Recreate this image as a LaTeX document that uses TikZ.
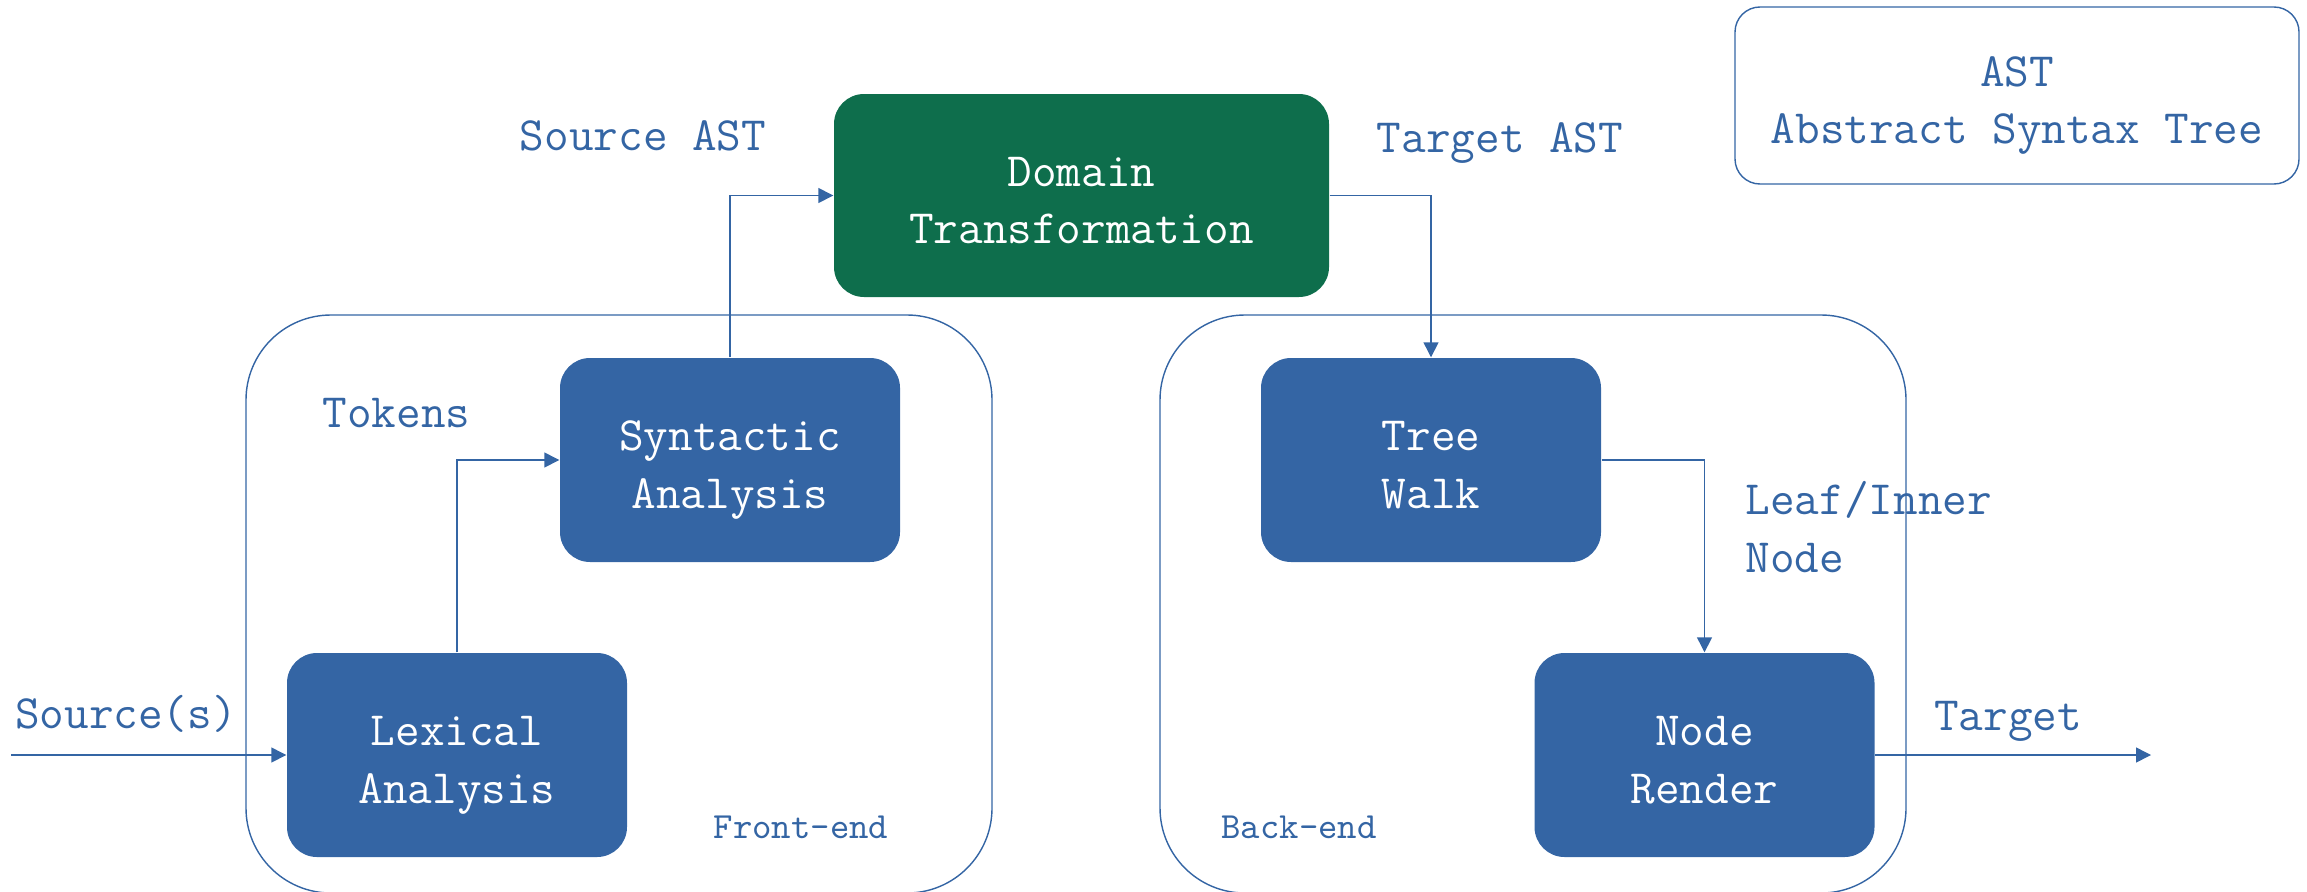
\documentclass[tikz,border=0pt]{standalone}
\usetikzlibrary{arrows.meta}
\definecolor{tangoblue}{HTML}{3465A4}
\definecolor{domaingreen}{HTML}{0E6E4C}
\begin{document}
\begin{tikzpicture}[
	font=\ttfamily\fontsize{13.6}{16.4}\selectfont,
	lines/.style={execute at begin node={\rule{0pt}{31.4pt}}, execute at end node={\rule[-4pt]{0pt}{4pt}}},
	stage/.style={lines, fill=tangoblue, text=white, rounded corners=0.3cm, minimum width=3.4cm, minimum height=2.04cm, align=center, inner sep=0},
	flow/.style={draw=tangoblue, -{Triangle[length=1.5mm, width=1.5mm]}},
	lbl/.style={text=tangoblue, inner sep=0},
	small/.style={font=\ttfamily\fontsize{10.5}{12}\selectfont},
	]

	\useasboundingbox (0,0) rectangle (23.07,8.91);

	\draw[tangoblue, rounded corners=0.85cm] (2.46,-0.02) rectangle (9.92,5.76);
	\draw[tangoblue, rounded corners=0.85cm] (11.60,-0.02) rectangle (19.06,5.76);

	\node[stage, fill=domaingreen, minimum width=4.95cm, minimum height=2.03cm] (domain) at (10.815,6.955) {Domain\\Transformation};
	\node[stage] (syntactic) at (7.30,4.31) {Syntactic\\Analysis};
	\node[stage] (lexical) at (4.57,1.36) {Lexical\\Analysis};
	\node[stage] (treewalk) at (14.31,4.31) {Tree\\Walk};
	\node[stage] (noderender) at (17.045,1.36) {Node\\Render};
	\node[lbl, lines, draw=tangoblue, rounded corners=0.25cm, minimum width=5.64cm, minimum height=1.77cm, align=center] (ast) at (20.17,7.955) {AST\\Abstract Syntax Tree};

	\coordinate (input) at (0.11,1.36);
	\coordinate (output) at (21.51,1.36);

	\draw[flow] (input) -- (lexical);
	\draw[flow] (lexical) |- (syntactic);
	\draw[flow] (syntactic) |- (domain);
	\draw[flow] (domain) -| (treewalk);
	\draw[flow] (treewalk) -| (noderender);
	\draw[flow] (noderender) -- (output);

	\node[lbl, anchor=base] (srcast) at (6.43,7.41) {Source AST};
	\node[lbl, anchor=base] (tgtast) at (15.00,7.39) {Target AST};
	\node[lbl, anchor=base] (tokens) at (3.965,4.64) {Tokens};
	\node[lbl, anchor=base west, align=left] (leafinner) at (17.45,3.19) {Leaf/Inner\\Node};
	\node[lbl, anchor=base] (sources) at (1.26,1.63) {Source(s)};
	\node[lbl, anchor=base] (target) at (20.08,1.61) {Target};
	\node[lbl, small, anchor=base] (frontend) at (8.01,0.53) {Front-end};
	\node[lbl, small, anchor=base] (backend) at (12.99,0.53) {Back-end};

\end{tikzpicture}
\end{document}
